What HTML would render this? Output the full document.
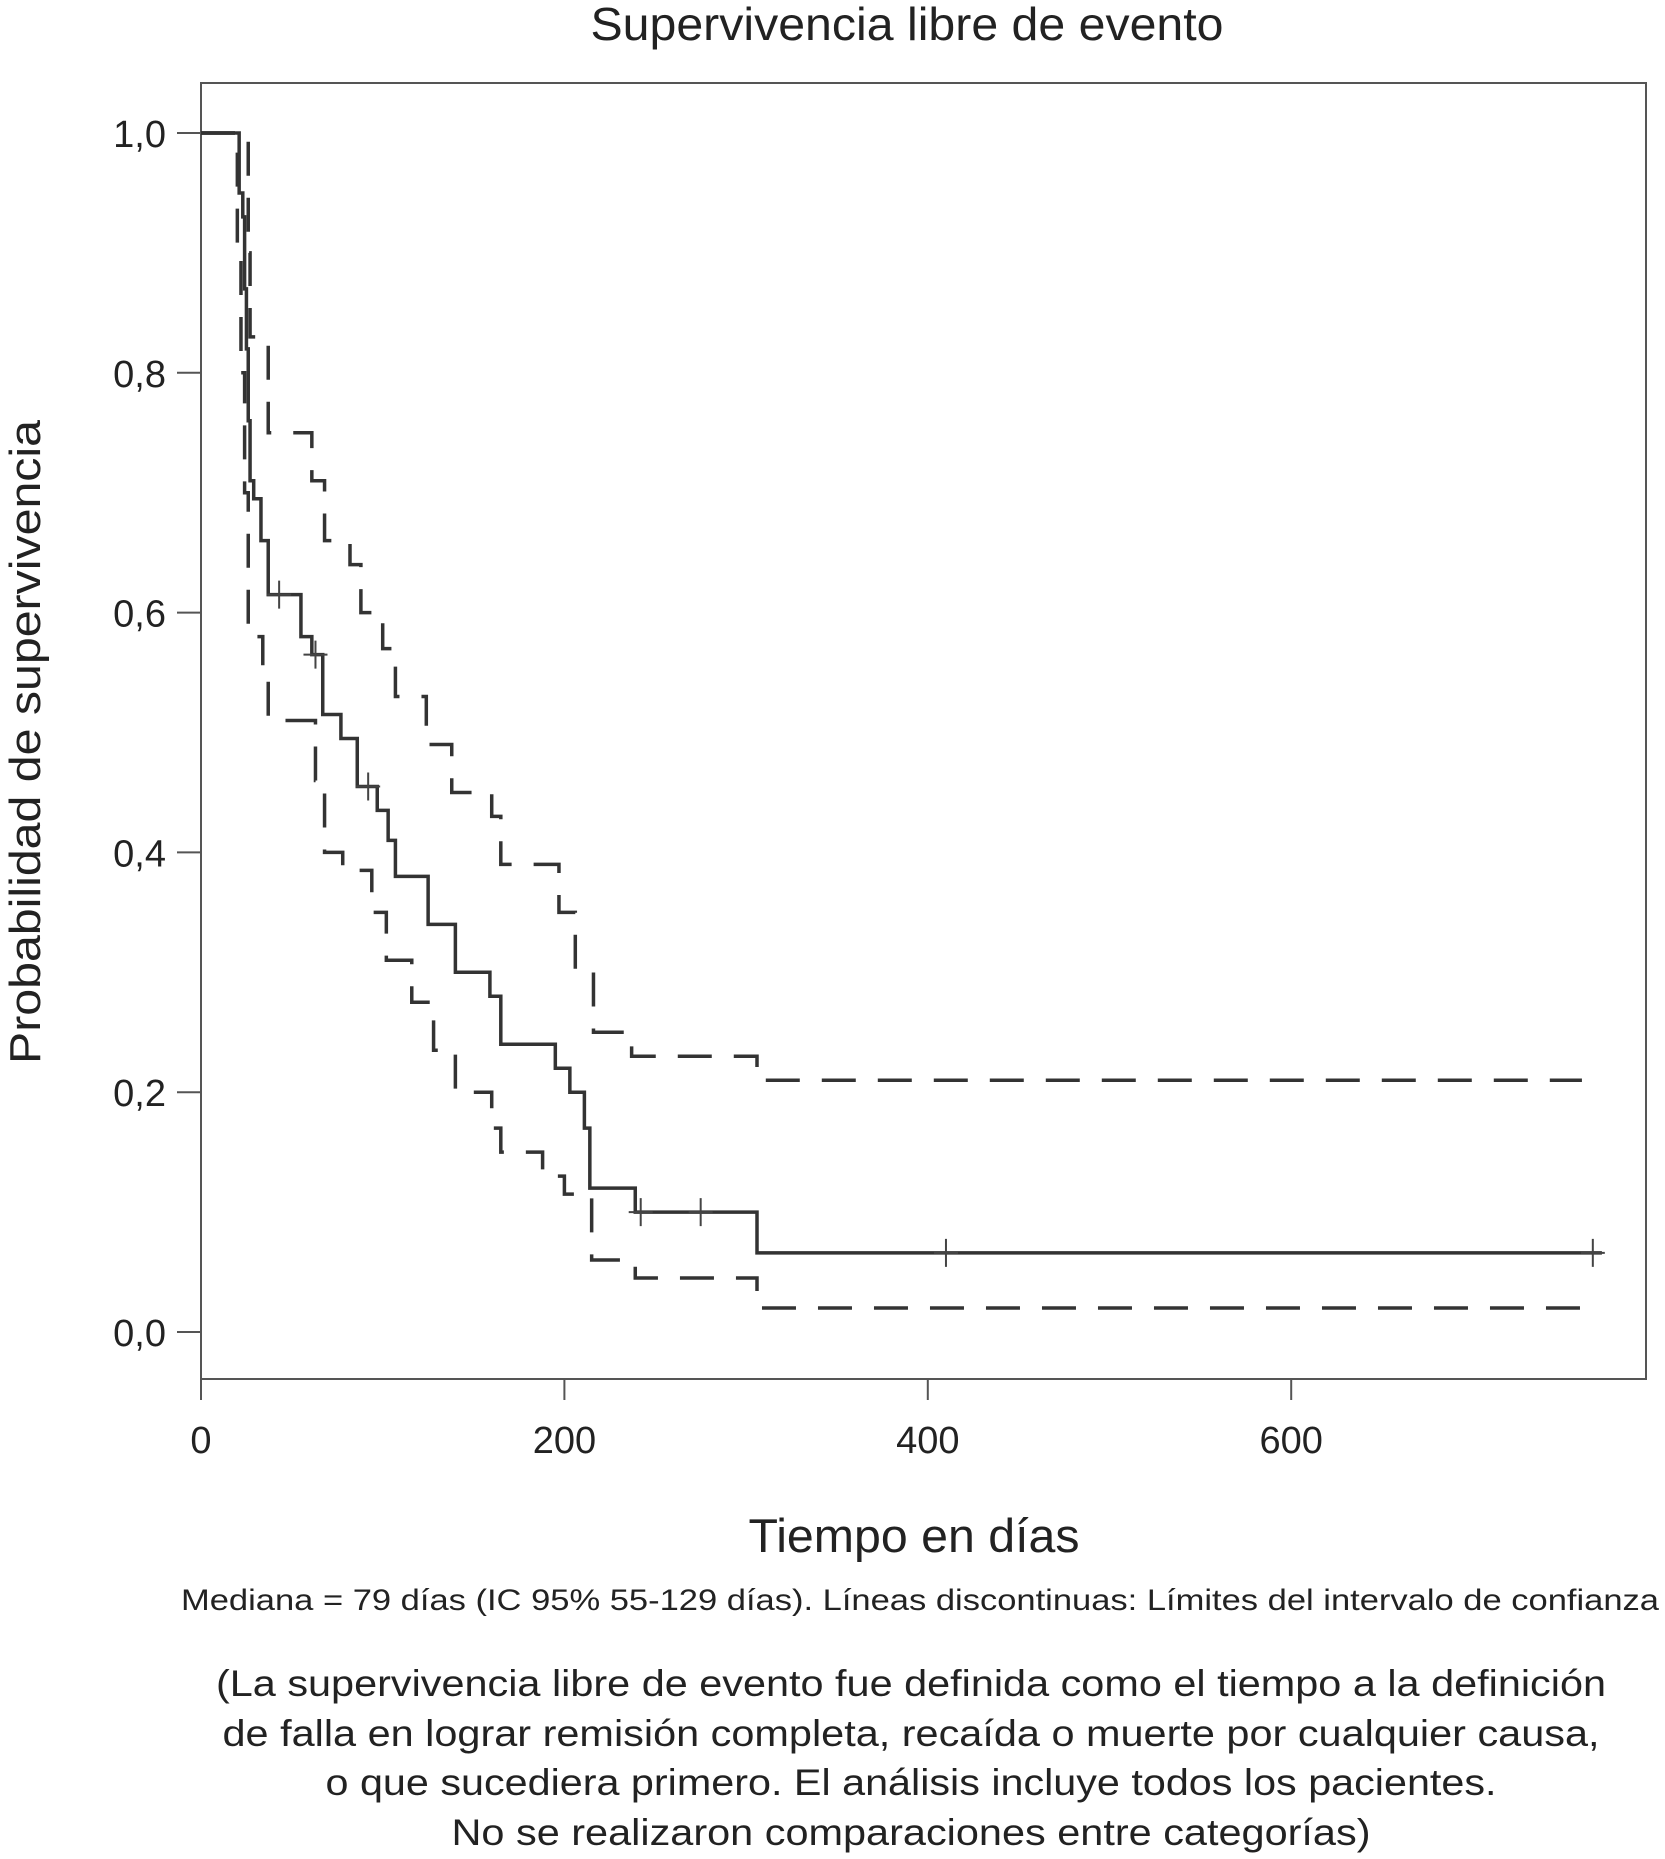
<!DOCTYPE html>
<html><head><meta charset="utf-8"><style>
html,body{margin:0;padding:0;background:#fff;}
svg{display:block;font-family:"Liberation Sans",Arial,sans-serif;}
</style></head><body>
<svg id="chart" width="1665" height="1859" viewBox="0 0 1665 1859">
<text x="907" y="40" font-size="46" text-anchor="middle" textLength="633" lengthAdjust="spacingAndGlyphs" fill="#222">Supervivencia libre de evento</text>
<rect x="201" y="83" width="1445" height="1296" fill="none" stroke="#555" stroke-width="2"/>
<g id="axes"></g>
<g id="series"></g>
<text x="914" y="1552" font-size="47" text-anchor="middle" textLength="331" lengthAdjust="spacingAndGlyphs" fill="#222">Tiempo en días</text>
<text transform="translate(40,742) rotate(-90)" font-size="44" text-anchor="middle" textLength="644" lengthAdjust="spacingAndGlyphs" fill="#222">Probabilidad de supervivencia</text>
<text x="181" y="1610" font-size="30" textLength="1478" lengthAdjust="spacingAndGlyphs" fill="#222">Mediana = 79 días (IC 95% 55-129 días). Líneas discontinuas: Límites del intervalo de confianza</text>
<g font-size="37" text-anchor="middle" fill="#222">
<text x="911" y="1696" textLength="1390" lengthAdjust="spacingAndGlyphs">(La supervivencia libre de evento fue definida como el tiempo a la definición</text>
<text x="911" y="1746" textLength="1377" lengthAdjust="spacingAndGlyphs">de falla en lograr remisión completa, recaída o muerte por cualquier causa,</text>
<text x="911" y="1795" textLength="1171" lengthAdjust="spacingAndGlyphs">o que sucediera primero. El análisis incluye todos los pacientes.</text>
<text x="911" y="1845" textLength="919" lengthAdjust="spacingAndGlyphs">No se realizaron comparaciones entre categorías)</text>
</g>
</svg>
<script>
const xTicks=[0,200,400,600];
const yTicks=[0,0.2,0.4,0.6,0.8,1.0];
const yTickLabels=["0,0","0,2","0,4","0,6","0,8","1,0"];
const kmTimes=[0,21,23,24,25,26,27,29,33,37,55,61,67,77,86,97,103,107,125,140,159,165,195,203,211,214,239,306];
const kmSurv=[1,0.95,0.93,0.87,0.82,0.76,0.71,0.695,0.66,0.615,0.58,0.565,0.515,0.495,0.455,0.435,0.41,0.38,0.34,0.30,0.28,0.24,0.22,0.20,0.17,0.12,0.10,0.066];
const kmEnd=771;
const censorTimes=[43,63,92,242,275,410,766];
const upperTimes=[0,26,27,37,61,68,82,88,100,107,124,138,160,165,197,206,216,237,306];
const upperSurv=[1,0.90,0.83,0.75,0.71,0.66,0.64,0.60,0.57,0.53,0.49,0.45,0.43,0.39,0.35,0.30,0.25,0.23,0.21];
const upperEnd=760;
const lowerTimes=[0,20,22,24,26,31,34,37,63,68,78,94,102,116,128,140,160,165,188,200,215,239,306];
const lowerSurv=[1,0.90,0.80,0.70,0.59,0.58,0.55,0.51,0.46,0.40,0.385,0.35,0.31,0.275,0.235,0.20,0.17,0.15,0.13,0.115,0.06,0.045,0.02];
const lowerEnd=765;

const NS="http://www.w3.org/2000/svg";
const X=t=>201+t*1.817;
const Y=s=>1332-s*1199;
function mk(tag,attrs,parent){const e=document.createElementNS(NS,tag);for(const k in attrs)e.setAttribute(k,attrs[k]);parent.appendChild(e);return e;}
const axes=document.getElementById('axes');
const series=document.getElementById('series');
xTicks.forEach(t=>{
  const l=mk('line',{x1:X(t),x2:X(t),y1:1379,y2:1400,stroke:'#555','stroke-width':2},axes);
  
  
  const tx=mk('text',{x:X(t),y:1453,'font-size':38,'text-anchor':'middle',fill:'#222'},axes);
  tx.textContent=t;
  
  
});
yTicks.forEach((s,i)=>{
  const l=mk('line',{x1:177,x2:201,y1:Y(s),y2:Y(s),stroke:'#555','stroke-width':2},axes);
  
  
  const tx=mk('text',{x:166,y:Y(s)+14,'font-size':38,'text-anchor':'end',fill:'#222'},axes);
  tx.textContent=yTickLabels[i];
  
  
});
function stepPath(ts,ss,end){
  let d='M'+X(ts[0])+','+Y(ss[0]);
  for(let i=1;i<ts.length;i++){d+=' H'+X(ts[i])+' V'+Y(ss[i]);}
  d+=' H'+X(end);return d;
}
const up=mk('path',{d:stepPath(upperTimes,upperSurv,upperEnd),fill:'none',stroke:'#333','stroke-width':3.5,'stroke-dasharray':'34 22'},series);


const lo=mk('path',{d:stepPath(lowerTimes,lowerSurv,lowerEnd),fill:'none',stroke:'#333','stroke-width':3.5,'stroke-dasharray':'34 22'},series);


const km=mk('path',{d:stepPath(kmTimes,kmSurv,kmEnd),fill:'none',stroke:'#333','stroke-width':3.5},series);


function survAt(t){let s=kmSurv[0];for(let i=0;i<kmTimes.length;i++){if(kmTimes[i]<=t)s=kmSurv[i];}return s;}
censorTimes.forEach(t=>{
  const c=mk('path',{d:'M'+(X(t)-12)+','+Y(survAt(t))+' h24 M'+X(t)+','+(Y(survAt(t))-14)+' v28',stroke:'#444','stroke-width':2,fill:'none'},series);
  
  
});
</script>
</body></html>
